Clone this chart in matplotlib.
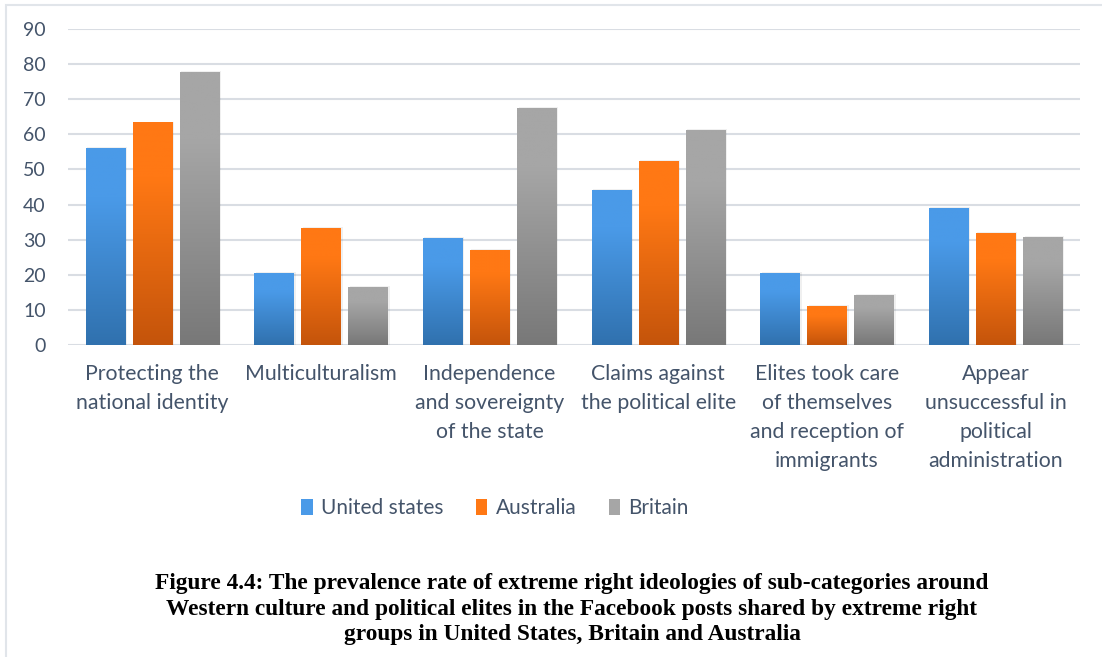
import numpy as np
import matplotlib
matplotlib.use("Agg")
import matplotlib.pyplot as plt
from matplotlib.colors import LinearSegmentedColormap
from matplotlib.patches import Rectangle

categories = [
    "Protecting the\nnational identity",
    "Multiculturalism",
    "Independence\nand sovereignty\nof the state",
    "Claims against\nthe political elite",
    "Elites took care\nof themselves\nand reception of\nimmigrants",
    "Appear\nunsuccessful in\npolitical\nadministration",
]
united_states = [56.1, 20.5, 30.5, 44.2, 20.5, 39.0]
australia = [63.4, 33.3, 27.1, 52.4, 11.1, 31.9]
britain = [77.8, 16.5, 67.5, 61.3, 14.2, 30.8]
series_names = ["United states", "Australia", "Britain"]
y_ticks = list(range(0, 100, 10))

# top colour -> bottom colour for each series
gradients = [
    ("#4a9ae8", "#3071ae"),
    ("#ff7814", "#c4540b"),
    ("#a6a6a6", "#787878"),
]
text_color = "#44546a"

plt.rcParams["font.family"] = ["Lato", "DejaVu Sans"]

W, H = 1102, 657
fig = plt.figure(figsize=(W / 100, H / 100), dpi=100)
ax = fig.add_axes([68 / W, 1 - 345 / H, 1012 / W, 316 / H])

# light frame around the chart area
frame = Rectangle((6 / W, -0.01), 1.1, 1 - 5 / H + 0.01, transform=fig.transFigure,
                  fill=False, edgecolor="#e1e5ea", linewidth=1.5, zorder=0)
fig.patches.append(frame)

x = np.arange(len(categories))
width = 0.232
step = 0.279
all_values = [united_states, australia, britain]

for k, (vals, (top, bottom)) in enumerate(zip(all_values, gradients)):
    cmap = LinearSegmentedColormap.from_list(
        f"g{k}", [(0, bottom), (0.75, top), (1, top)])
    bars = ax.bar(x + (k - 1) * step, vals, width, color=top, zorder=3,
                  label=series_names[k], linewidth=0)
    for b in bars:
        x0, y0 = b.get_x(), b.get_y()
        w, h = b.get_width(), b.get_height()
        # faint drop shadow
        ax.add_patch(Rectangle((x0 + 0.008, y0), w + 0.004, h + 0.25,
                               facecolor="#000000", alpha=0.06, linewidth=0, zorder=2))
        grad = np.linspace(0, 1, 256).reshape(-1, 1)
        im = ax.imshow(grad, extent=(x0, x0 + w, y0, y0 + h), origin="lower",
                       aspect="auto", cmap=cmap, zorder=3.5)
        im.set_clip_path(b)

ax.set_xlim(-0.5, len(categories) - 0.5)
ax.set_ylim(0, 90)
ax.set_yticks(y_ticks)
ax.set_yticklabels([str(t) for t in y_ticks])
ax.set_xticks(x)
ax.set_xticklabels(categories, linespacing=1.55)
ax.tick_params(axis="y", length=0, pad=16, labelsize=14, labelcolor=text_color)
ax.tick_params(axis="x", length=0, pad=14, labelsize=15.3, labelcolor=text_color)
ax.grid(axis="y", color="#d9dde3", linewidth=1.5, zorder=0)
ax.set_axisbelow(True)
for s in ax.spines.values():
    s.set_visible(False)

leg = ax.legend(loc="center", bbox_to_anchor=(495 / W, 1 - 508 / H),
                bbox_transform=fig.transFigure, ncol=3, frameon=False,
                fontsize=15, handlelength=0.55, handleheight=0.8,
                handletextpad=0.4, columnspacing=1.55, labelcolor=text_color)

fig.text(572 / W, 1 - 609 / H,
         "Figure 4.4: The prevalence rate of extreme right ideologies of sub-categories around\n"
         "Western culture and political elites in the Facebook posts shared by extreme right\n"
         "groups in United States, Britain and Australia",
         ha="center", va="center", fontsize=16.8, fontweight="bold",
         family="Liberation Serif", linespacing=1.28, color="#000000")

fig.savefig("out.png", dpi=100)
